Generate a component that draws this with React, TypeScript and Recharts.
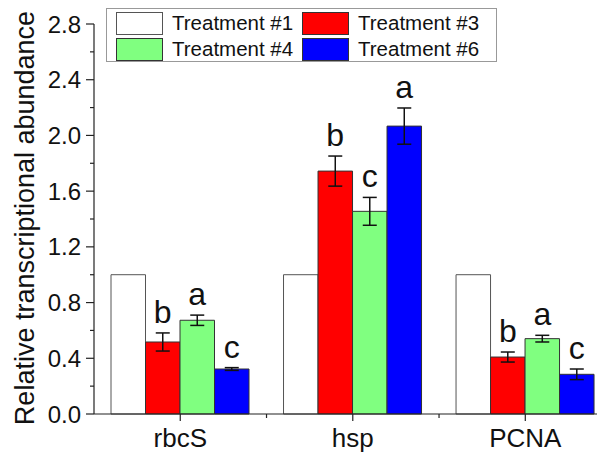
import * as React from "react";
import { BarChart, Bar, XAxis, YAxis, ErrorBar, LabelList } from "recharts";

const categories = ["rbcS", "hsp", "PCNA"];
const treatment1 = [1.0, 1.0, 1.0];
const treatment3 = [0.517, 1.744, 0.409];
const treatment3Err = [0.065, 0.108, 0.036];
const treatment4 = [0.673, 1.455, 0.541];
const treatment4Err = [0.037, 0.1, 0.024];
const treatment6 = [0.323, 2.067, 0.285];
const treatment6Err = [0.01, 0.13, 0.038];
const letters3 = ["b", "b", "b"];
const letters4 = ["a", "c", "a"];
const letters6 = ["c", "a", "c"];
const yTicks = [0, 0.2, 0.4, 0.6, 0.8, 1.0, 1.2, 1.4, 1.6, 1.8, 2.0, 2.2, 2.4, 2.6, 2.8];
const yMajor = [0, 0.4, 0.8, 1.2, 1.6, 2.0, 2.4, 2.8];
const xTicks = [0.5, 1, 1.5, 2, 2.5];

const FONT = "Arial, 'Liberation Sans', sans-serif";

const series = [
    { key: "t1", name: "Treatment #1", color: "#FFFFFF", stroke: "#555555" },
    { key: "t3", name: "Treatment #3", color: "#FF0000", stroke: "#333333" },
    { key: "t4", name: "Treatment #4", color: "#80FF80", stroke: "#333333" },
    { key: "t6", name: "Treatment #6", color: "#0000FF", stroke: "#333333" },
];

const data = categories.map((name, i) => ({
    name,
    pos: i + 0.5,
    t1: treatment1[i],
    t3: treatment3[i],
    t3e: treatment3Err[i],
    t4: treatment4[i],
    t4e: treatment4Err[i],
    t6: treatment6[i],
    t6e: treatment6Err[i],
}));

const YTick = (props: any) => {
    const { x, y, payload } = props;
    const major = yMajor.some((m) => Math.abs(m - payload.value) < 1e-6);
    return (
        <g>
            <line x1={x - (major ? 8 : 4)} x2={x} y1={y} y2={y} stroke="#222" strokeWidth={1.2} />
            {major && (
                <text x={x - 13} y={y + 8.5} textAnchor="end" fontSize={24} fontFamily={FONT} fill="#111">
                    {payload.value.toFixed(1)}
                </text>
            )}
        </g>
    );
};

const XTick = (props: any) => {
    const { x, y, payload } = props;
    const v = payload.value;
    const center = Math.abs((v % 1) - 0.5) < 1e-6;
    return (
        <g>
            <line x1={x} x2={x} y1={y} y2={y + (center ? 7 : 4)} stroke="#222" strokeWidth={1.2} />
            {center && (
                <text x={x} y={y + 33} textAnchor="middle" fontSize={26} fontFamily={FONT} fill="#111">
                    {categories[Math.floor(v)]}
                </text>
            )}
        </g>
    );
};

const letterLabel = (values: number[], errs: number[], letters: string[]) => (props: any) => {
    const { x, y, width, height, index } = props;
    const pxPerUnit = height / values[index];
    const errTop = y - errs[index] * pxPerUnit;
    return (
        <text x={x + width / 2} y={errTop - 10} textAnchor="middle" fontSize={32} fontFamily={FONT} fill="#111">
            {letters[index]}
        </text>
    );
};

const YLabel = (props: any) => {
    const { viewBox } = props;
    const cy = viewBox.y + viewBox.height / 2 - 1;
    return (
        <text x={34} y={cy} transform={`rotate(-90, 34, ${cy})`} textAnchor="middle" fontSize={27} fontFamily={FONT} fill="#111">
            Relative transcriptional abundance
        </text>
    );
};

const ChartLegend = () => (
    <div style={{ position: "absolute", left: 106, top: 8, width: 389, height: 52, border: "1px solid #999", background: "#fff", fontFamily: FONT }}>
        {series.map((s, i) => {
            const col = i % 2;
            const row = Math.floor(i / 2);
            return (
                <React.Fragment key={s.key}>
                    <div style={{ position: "absolute", left: 9 + col * 186, top: 3 + row * 26, width: 45, height: 21, background: s.color, border: `1px solid ${s.stroke}` }} />
                    <div style={{ position: "absolute", left: 65 + col * 186, top: 2 + row * 26, fontSize: 20.5, lineHeight: "23px", color: "#111", whiteSpace: "nowrap" }}>{s.name}</div>
                </React.Fragment>
            );
        })}
    </div>
);

const App = () => {
    return (
        <div style={{ position: "relative", marginLeft: -8, marginTop: -8, width: 605, height: 454, background: "#fff" }}>
            <BarChart width={605} height={454} data={data} margin={{ top: 24, right: 0, left: 0, bottom: 0 }} barGap={0} barCategoryGap="10%">
                <XAxis dataKey="pos" type="number" domain={[0, 2.962]} ticks={xTicks} tick={<XTick />} tickLine={false} tickSize={0} tickMargin={0} height={40} stroke="#222" strokeWidth={1.2} interval={0} />
                <YAxis type="number" domain={[0, 2.8]} ticks={yTicks} tick={<YTick />} tickLine={false} tickSize={0} tickMargin={0} width={94} stroke="#222" strokeWidth={1.2} interval={0} label={<YLabel />} />
                <Bar dataKey="t1" fill="#FFFFFF" stroke="#555555" strokeWidth={1} barSize={34.5} isAnimationActive={false} />
                <Bar dataKey="t3" fill="#FF0000" stroke="#333333" strokeWidth={1} barSize={34.5} isAnimationActive={false}>
                    <ErrorBar dataKey="t3e" width={7} stroke="#111" strokeWidth={1.5} isAnimationActive={false} />
                    <LabelList content={letterLabel(treatment3, treatment3Err, letters3)} />
                </Bar>
                <Bar dataKey="t4" fill="#80FF80" stroke="#333333" strokeWidth={1} barSize={34.5} isAnimationActive={false}>
                    <ErrorBar dataKey="t4e" width={7} stroke="#111" strokeWidth={1.5} isAnimationActive={false} />
                    <LabelList content={letterLabel(treatment4, treatment4Err, letters4)} />
                </Bar>
                <Bar dataKey="t6" fill="#0000FF" stroke="#333333" strokeWidth={1} barSize={34.5} isAnimationActive={false}>
                    <ErrorBar dataKey="t6e" width={7} stroke="#111" strokeWidth={1.5} isAnimationActive={false} />
                    <LabelList content={letterLabel(treatment6, treatment6Err, letters6)} />
                </Bar>
            </BarChart>
            <ChartLegend />
        </div>
    );
};

export default App;
